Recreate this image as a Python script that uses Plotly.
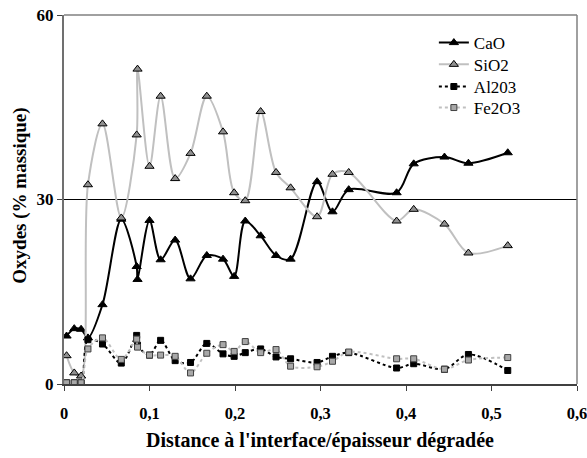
import plotly.graph_objects as go

# Shared x positions (distance / degraded thickness)
distance = [0.003, 0.012, 0.020, 0.028, 0.045, 0.067, 0.085, 0.086, 0.100, 0.113,
            0.130, 0.148, 0.167, 0.186, 0.199, 0.212, 0.230, 0.248, 0.265, 0.296,
            0.314, 0.333, 0.389, 0.409, 0.445, 0.473, 0.519]

cao = [7.8, 9.0, 8.9, 7.5, 12.9, 26.8, 19.1, 17.0, 26.6, 20.2,
       23.4, 17.1, 20.9, 20.3, 17.5, 26.5, 24.1, 20.9, 20.3, 32.9,
       28.0, 31.6, 31.1, 35.8, 36.9, 35.9, 37.6]

sio2 = [4.6, 1.8, 1.3, 32.4, 42.3, 27.0, 40.5, 51.2, 35.4, 46.8,
        33.4, 37.5, 46.8, 41.0, 31.1, 29.8, 44.3, 34.4, 31.9, 27.2,
        34.1, 34.4, 26.5, 28.4, 26.0, 21.3, 22.5]

al2o3 = [0.2, 0.2, 0.2, 7.2, 6.5, 3.4, 7.9, 6.3, 4.7, 7.1,
         3.8, 3.5, 6.6, 4.9, 4.5, 5.1, 5.7, 4.4, 4.1, 3.5,
         4.5, 5.1, 2.6, 3.3, 2.4, 4.8, 2.2]

fe2o3 = [0.2, 0.2, 0.2, 5.7, 7.5, 4.0, 7.3, 6.0, 4.7, 4.7,
         4.5, 1.8, 5.0, 6.4, 5.3, 6.9, 5.1, 5.6, 2.9, 2.8,
         3.7, 5.2, 4.1, 4.1, 2.4, 3.9, 4.3]

x_ticks = [0, 0.1, 0.2, 0.3, 0.4, 0.5, 0.6]
x_ticktext = ["0", "0,1", "0,2", "0,3", "0,4", "0,5", "0,6"]
y_ticks = [0, 30, 60]
y_ticktext = ["0", "30", "60"]

serif = "Liberation Serif"

fig = go.Figure()
fig.add_trace(go.Scatter(
    x=distance, y=cao, name="CaO", mode="lines+markers", legend="legend",
    line=dict(color="black", width=2, shape="spline", smoothing=0.9),
    marker=dict(symbol="triangle-up", size=8, color="black",
                line=dict(color="black", width=1))))
fig.add_trace(go.Scatter(
    x=distance, y=sio2, name="SiO2", mode="lines+markers", legend="legend2",
    line=dict(color="#c0c0c0", width=2, shape="spline", smoothing=0.9),
    marker=dict(symbol="triangle-up", size=8, color="#909090",
                line=dict(color="black", width=1))))
fig.add_trace(go.Scatter(
    x=distance, y=al2o3, name="Al203", mode="lines+markers", legend="legend3",
    line=dict(color="black", width=2, dash="dot", shape="spline", smoothing=0.9),
    marker=dict(symbol="square", size=6, color="black",
                line=dict(color="black", width=1))))
fig.add_trace(go.Scatter(
    x=distance, y=fe2o3, name="Fe2O3", mode="lines+markers", legend="legend4",
    line=dict(color="#c0c0c0", width=2, dash="dot", shape="spline", smoothing=0.9),
    marker=dict(symbol="square", size=6, color="#a8a8a8",
                line=dict(color="#404040", width=1))))

leg_common = dict(x=0.721, xanchor="left", yanchor="middle",
                  font=dict(family=serif, size=17, color="black"),
                  bgcolor="rgba(0,0,0,0)")

fig.update_layout(
    width=587, height=458,
    margin=dict(l=64, r=10, t=15, b=74, autoexpand=False),
    paper_bgcolor="white", plot_bgcolor="white",
    showlegend=True,
    legend=dict(y=0.924, **leg_common),
    legend2=dict(y=0.865, **leg_common),
    legend3=dict(y=0.805, **leg_common),
    legend4=dict(y=0.748, **leg_common),
    font=dict(family=serif, color="black"),
    xaxis=dict(range=[0, 0.6], tickvals=x_ticks, ticktext=x_ticktext,
               automargin=False,
               showgrid=False, zeroline=False,
               showline=True, linecolor="#404040", linewidth=2,
               ticks="outside", ticklen=5, tickcolor="#404040", tickwidth=1,
               ticklabelstandoff=8, ticklabeloverflow="allow",
               tickfont=dict(family=serif, size=16.5, color="black", weight="bold")),
    yaxis=dict(range=[0, 60], tickvals=y_ticks, ticktext=y_ticktext,
               automargin=False,
               showgrid=True, gridcolor="black", gridwidth=1, zeroline=False,
               showline=True, linecolor="#707070", linewidth=2,
               ticks="outside", ticklen=5, tickcolor="#404040", tickwidth=1,
               tickfont=dict(family=serif, size=17, color="black", weight="bold")),
    annotations=[
        dict(text="Distance à l'interface/épaisseur dégradée", xref="paper", yref="paper",
             x=0.499, y=-0.153, xanchor="center", yanchor="middle", showarrow=False,
             font=dict(family=serif, size=20, color="black", weight="bold")),
        dict(text="Oxydes (% massique)", xref="paper", yref="paper",
             x=-0.086, y=0.51, xanchor="center", yanchor="middle", showarrow=False,
             textangle=-90,
             font=dict(family=serif, size=19, color="black", weight="bold")),
    ],
    shapes=[
        dict(type="line", xref="paper", yref="paper", x0=0, x1=1, y0=1, y1=1,
             line=dict(color="#808080", width=1.5), layer="above"),
        dict(type="line", xref="paper", yref="paper", x0=1, x1=1, y0=0, y1=1,
             line=dict(color="#808080", width=1.5), layer="above"),
    ],
)

fig.write_html("out.html", config={"displayModeBar": False},
               post_script="document.body.style.margin='0';")
